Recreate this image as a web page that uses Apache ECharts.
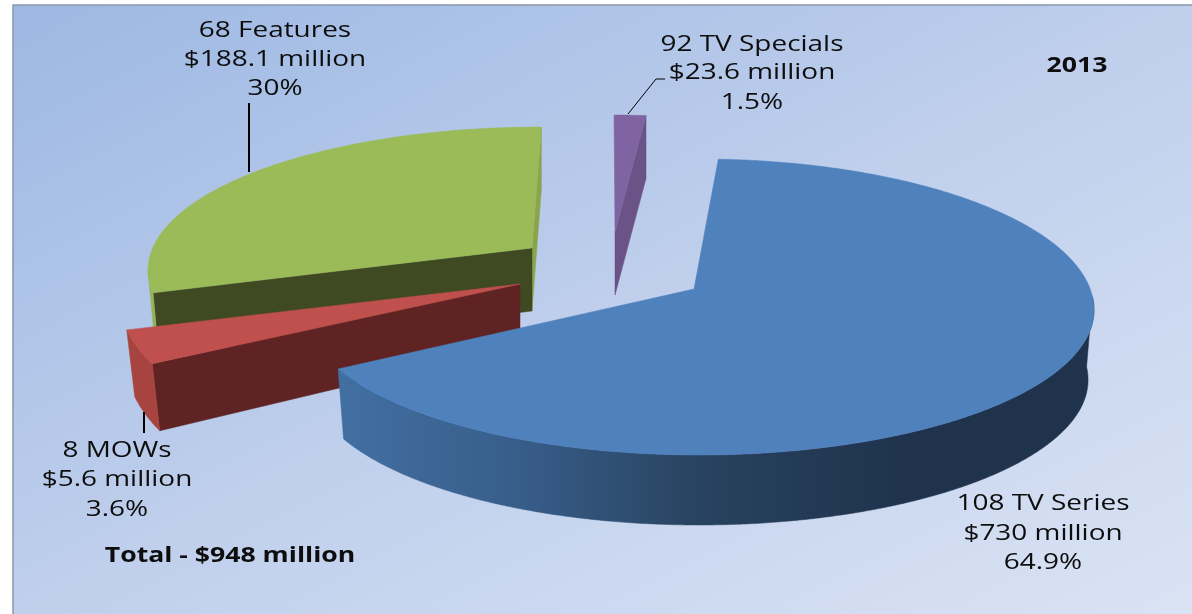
<!DOCTYPE html>
<html>
<head>
<meta charset="utf-8">
<style>html,body{margin:0;padding:0;background:#fff}#c{width:1192px;height:614px}</style>
<script src="https://cdn.jsdelivr.net/npm/echarts@6/dist/echarts.min.js"></script>
</head>
<body>
<div id="c"></div>
<script>
// ---- data ----
var titles = ['68 Features', '8 MOWs', '108 TV Series', '92 TV Specials'];
var amounts = ['$188.1 million', '$5.6 million', '$730 million', '$23.6 million'];
var shares = [30, 3.6, 64.9, 1.5];
var shareLabels = ['30%', '3.6%', '64.9%', '1.5%'];
var yearLabel = '2013';
var totalLabel = 'Total - $948 million';

// ---- drawing geometry of the tilted, exploded slices ----
var FONT = '"Open Sans"';
var FONT_SIZE = 22;
var STRETCH = 1.27, STRETCH_BOLD = 1.21;
var geom = [
  { cx: 541, cy: 270, rx: 393, ryT: 143, ryB: 143, ax: 532, ay: 248, start: 260.8, scale: 0.919, depth: 63, apexDepth: 63, rxS: 0.985,
    top: '#9bbb59', wall: '#94b354', wallRange: [260.8, 270], startFace: '#3f4a22', endFace: '#8aa44e',
    label: [275, 30, 59, 88], leader: [[249, 103], [249, 172]], leaderW: 2 },
  { cx: 530, cy: 294, rx: 412, ryT: 175, ryB: 175, ax: 520, ay: 284, start: 246.5, scale: 0.9, depth: 67, apexDepth: 61, rxS: 0.98,
    top: '#c0504d', wall: '#a8443f', wallRange: [246.5, 258.2], startFace: '#5e2322',
    label: [117, 450, 479, 509], leader: [[144, 412], [144, 433]], leaderW: 2 },
  { cx: 699, cy: 310, rx: 395, ryT: 151, ryB: 145, ax: 694, ay: 289, start: 2.8, scale: 1.041, depth: 70, apexDepth: 70, rxS: 0.985,
    top: '#4f81bd', wallRange: [85, 246],
    wallGrad: [338, 900, [[0, '#426fa2'], [0.3, '#385f8c'], [0.65, '#28425f'], [1, '#1f334d']]],
    label: [1043, 503, 533, 562] },
  { cx: 614, cy: 245, rx: 340, ryT: 130, ryB: 130, ax: 615, ay: 232, start: 0, scale: 1, depth: 63, apexDepth: 63, rxS: 1,
    top: '#8064a2', endFace: '#6b5387',
    label: [752, 44, 72, 102], leader: [[628, 114], [656, 79], [665, 79]], leaderW: 1 }
];

function rim(g, t, d) {
  var r = t * Math.PI / 180, c = Math.cos(r), s = Math.sin(r);
  var ry = c >= 0 ? g.ryT : g.ryB;
  var k = d ? g.rxS : 1;
  return [g.cx + g.rx * k * s, g.cy - ry * c + (d || 0)];
}
function arc(g, a, b, d) {
  var pts = [], n = Math.max(2, Math.ceil(Math.abs(b - a) * 2));
  for (var i = 0; i <= n; i++) pts.push(rim(g, a + (b - a) * i / n, d));
  return pts;
}
function poly(points, fill, z) {
  return { type: 'polygon', shape: { points: points }, style: { fill: fill, stroke: fill, lineWidth: 0.5 }, z2: z };
}
function textEl(txt, x, y, bold) {
  return { type: 'text', z2: 50, x: x, y: y + 1, scaleX: bold ? STRETCH_BOLD : STRETCH, scaleY: 1,
    style: { text: txt, x: 0, y: 0, textAlign: 'center', textVerticalAlign: 'middle',
      fill: '#0d0d0d', font: (bold ? 'bold ' : '') + FONT_SIZE + 'px ' + FONT } };
}

function renderSlice(params, api) {
  var i = params.dataIndex, g = geom[i];
  var sweep = api.value(0) / 100 * 360 * g.scale;
  var a = g.start, b = g.start + sweep, kids = [];
  var apex = [g.ax, g.ay], apexLow = [g.ax, g.ay + g.apexDepth];
  if (g.endFace) kids.push(poly([rim(g, b), rim(g, b, g.depth), apexLow, apex], g.endFace, 1));
  if (g.startFace) kids.push(poly([rim(g, a), rim(g, a, g.depth), apexLow, apex], g.startFace, 2));
  if (g.wallRange) {
    var w1 = g.wallRange[0], w2 = g.wallRange[1];
    var fill = g.wall;
    if (g.wallGrad) {
      fill = new echarts.graphic.LinearGradient(g.wallGrad[0], 0, g.wallGrad[1], 0,
        g.wallGrad[2].map(function (s) { return { offset: s[0], color: s[1] }; }), true);
    }
    kids.push(poly(arc(g, w1, w2, 0).concat(arc(g, w2, w1, g.depth)), fill, 3));
  }
  kids.push(poly(arc(g, a, b, 0).concat([apex]), g.top, 4));
  if (g.leader) {
    kids.push({ type: 'polyline', z2: 40, shape: { points: g.leader }, style: { stroke: '#000', lineWidth: g.leaderW, fill: 'none' } });
  }
  kids.push(textEl(titles[i], g.label[0], g.label[1]));
  kids.push(textEl(amounts[i], g.label[0], g.label[2]));
  kids.push(textEl(shareLabels[i], g.label[0], g.label[3]));
  return { type: 'group', children: kids };
}

var chart = echarts.init(document.getElementById('c'), null, { renderer: 'canvas' });
chart.setOption({
  animation: false,
  backgroundColor: '#ffffff',
  graphic: [
    { type: 'rect', z: -10, silent: true, shape: { x: 13, y: 5, width: 1200, height: 630 },
      style: { fill: new echarts.graphic.LinearGradient(13, 5, 510, 966, [
        { offset: 0, color: '#9db8e3' }, { offset: 0.5, color: '#bfcfec' }, { offset: 1, color: '#dae3f4' }], true),
        stroke: '#8b96ad', lineWidth: 1.5 } },
    { type: 'text', z: 60, silent: true, x: 1077, y: 66, scaleX: STRETCH_BOLD, scaleY: 1,
      style: { text: yearLabel, x: 0, y: 0, textAlign: 'center', textVerticalAlign: 'middle', fill: '#0d0d0d', font: 'bold ' + FONT_SIZE + 'px ' + FONT } },
    { type: 'text', z: 60, silent: true, x: 230, y: 556, scaleX: STRETCH_BOLD, scaleY: 1,
      style: { text: totalLabel, x: 0, y: 0, textAlign: 'center', textVerticalAlign: 'middle', fill: '#0d0d0d', font: 'bold ' + FONT_SIZE + 'px ' + FONT } }
  ],
  series: [{
    type: 'custom',
    coordinateSystem: 'none',
    silent: true,
    clip: false,
    data: shares.map(function (s) { return [s]; }),
    renderItem: renderSlice
  }]
});
</script>
</body>
</html>
